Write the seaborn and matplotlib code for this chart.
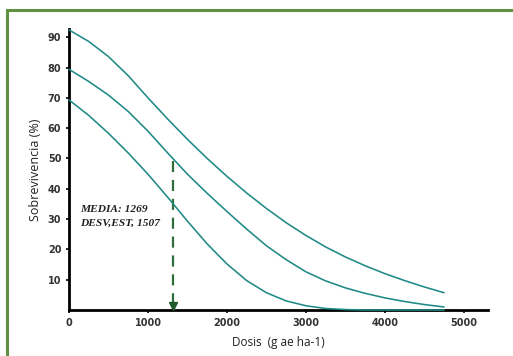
import numpy as np
import pandas as pd
import matplotlib
matplotlib.use("Agg")
import matplotlib.pyplot as plt
import seaborn as sns
from matplotlib.patches import Rectangle

# ---- data ----
dose = [0, 250, 500, 750, 1000, 1250, 1500, 1750, 2000, 2250, 2500,
        2750, 3000, 3250, 3500, 3750, 4000, 4250, 4500, 4750]
upper = [92.4, 88.6, 83.6, 77.3, 70.0, 63.0, 56.3, 50.0, 44.1, 38.6, 33.5,
         28.8, 24.6, 20.8, 17.5, 14.6, 12.0, 9.7, 7.6, 5.7]
middle = [79.4, 75.4, 70.9, 65.5, 59.0, 51.8, 44.8, 38.5, 32.5, 26.7, 21.2,
          16.6, 12.6, 9.6, 7.3, 5.5, 4.0, 2.8, 1.8, 1.0]
lower = [69.3, 64.2, 58.3, 51.8, 44.8, 37.2, 29.3, 21.8, 15.2, 9.7, 5.7,
         3.0, 1.4, 0.5, 0.15, 0.0, 0.0, 0.0, 0.0, 0.0]
mark_dose = 1315
mark_value = 49
xticks = [0, 1000, 2000, 3000, 4000, 5000]
yticks = [10, 20, 30, 40, 50, 60, 70, 80, 90]
note_lines = ["MEDIA: 1269", "DESV,EST, 1507"]

df = pd.DataFrame({"dose": dose * 3,
                   "surv": upper + middle + lower,
                   "curve": ["upper"] * len(dose) + ["middle"] * len(dose) + ["lower"] * len(dose)})

sns.set_theme(style="white")
plt.rcParams["font.family"] = ["DejaVu Sans"]

fig = plt.figure(figsize=(5.13, 3.56), dpi=100)
ax = fig.add_axes([0.1345, 0.1292, 0.8165, 0.7893])

teal = "#1f8a86"
sns.lineplot(data=df, x="dose", y="surv", hue="curve", palette=[teal, teal, teal],
             legend=False, ax=ax, linewidth=1.15, sort=True, zorder=3, clip_on=False)

# dashed marker line with arrow head
ax.plot([mark_dose, mark_dose], [mark_value, 2.5], ls=(0, (5, 3.5)), color="#2f6e3c", lw=1.6)
ax.plot([mark_dose], [1.2], marker="v", color="#1f5a2c", markersize=6, clip_on=False, zorder=5)

ax.text(140, 33.3, note_lines[0], fontsize=8.2, fontweight="bold", style="italic",
        family=["Liberation Serif", "DejaVu Serif"], color="#222222", va="center")
ax.text(140, 28.5, note_lines[1], fontsize=8.2, fontweight="bold", style="italic",
        family=["Liberation Serif", "DejaVu Serif"], color="#222222", va="center")

ax.set_xlim(0, 5304)
ax.set_ylim(0, 92.7)
ax.set_xticks(xticks)
ax.set_yticks(yticks)
ax.set_xticklabels([str(t) for t in xticks], family=["Liberation Sans Narrow", "DejaVu Sans"],
                   fontsize=7, fontweight="bold", color="#333333")
ax.set_yticklabels([str(t) for t in yticks], family=["Liberation Sans Narrow", "DejaVu Sans"],
                   fontsize=7, fontweight="bold", color="#333333")
ax.tick_params(axis="both", direction="out", length=2.5, width=1.2, color="black", pad=3,
               bottom=True, left=True)

for s in ["top", "right"]:
    ax.spines[s].set_visible(False)
for s in ["left", "bottom"]:
    ax.spines[s].set_color("black")
    ax.spines[s].set_linewidth(2.0)

ax.set_xlabel("Dosis  (g ae ha-1)", family=["Open Sans", "DejaVu Sans"], fontsize=8.5,
              color="#222222", labelpad=6)
ax.set_ylabel("Sobrevivencia (%)", family=["Open Sans", "DejaVu Sans"], fontsize=9,
              color="#222222", labelpad=4)

ax.set_facecolor("white")
fig.patch.set_facecolor("white")

# green frame (left and top edges visible)
fig.patches.append(Rectangle((0.0146, -0.2), 1.2, 1.172, transform=fig.transFigure,
                             fill=False, edgecolor="#5f9143", linewidth=2.2, zorder=0))

fig.savefig("out.png", dpi=100)
